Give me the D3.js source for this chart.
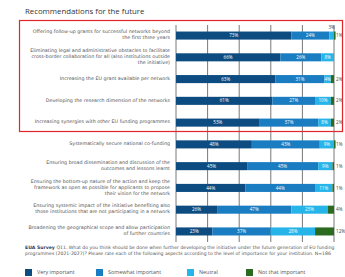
<!DOCTYPE html>
<html>
<head>
<meta charset="utf-8">
<script src="https://cdn.jsdelivr.net/npm/d3@7"></script>
<style>
  body { margin: 0; background: #fff; }
  svg { display: block; font-family: "Open Sans", sans-serif; }
</style>
</head>
<body>
<div id="chart"></div>
<script>
// Our data
const questions = [
  ['Offering follow-up grants for successful networks beyond', 'the first three years'],
  ['Eliminating legal and administrative obstacles to facilitate', 'cross-border collaboration for all (also institutions outside', 'the initiative)'],
  ['Increasing the EU grant available per network'],
  ['Developing the research dimension of the networks'],
  ['Increasing synergies with other EU funding programmes'],
  ['Systematically secure national co-funding'],
  ['Ensuring broad dissemination and discussion of the', 'outcomes and lessons learnt'],
  ['Ensuring the bottom-up nature of the action and keep the', 'framework as open as possible for applicants to propose', 'their vision for the network'],
  ['Ensuring systemic impact of the initiative benefiting also', 'those institutions that are not participating in a network'],
  ['Broadening the geographical scope and allow participation', 'of further countries']
]
const veryImportant = [73, 66, 63, 61, 53, 48, 45, 44, 26, 23]
const somewhatImportant = [24, 26, 31, 27, 37, 43, 45, 44, 47, 37]
const neutral = [3, 8, 4, 10, 8, 9, 9, 11, 23, 28]
const notImportant = [1, 0, 2, 2, 2, 1, 1, 1, 4, 12]
const seriesNames = ['Very important', 'Somewhat important', 'Neutral', 'Not that important']
const gridTicks = [0, 20, 40, 60, 80, 100]

const width = 345,
  height = 277
const colors = ['#0d4c80', '#1a7cc1', '#27b4e8', '#2b6b1f']
const smallFont = '"DejaVu Sans", sans-serif'

let svg = d3.select('#chart')
  .append('svg')
  .attr('width', width)
  .attr('height', height)

const x = d3.scaleLinear().domain([0, 100]).range([176, 334])
const y = d3.scaleBand().domain(d3.range(questions.length)).range([25, 242]).paddingInner(0.63).paddingOuter(0.3)

// title
svg.append('text')
  .attr('x', 25).attr('y', 14)
  .attr('font-size', 7.8).attr('fill', '#333')
  .text('Recommendations for the future')

// grid
svg.append('g').selectAll('line')
  .data(gridTicks)
  .enter().append('line')
  .attr('x1', d => x(d)).attr('x2', d => x(d))
  .attr('y1', 25).attr('y2', 242)
  .attr('stroke', '#555').attr('stroke-width', 0.8)

// stacked bars
const rows = questions.map((q, i) => [veryImportant[i], somewhatImportant[i], neutral[i], notImportant[i]])
const stacked = rows.map(r => {
  let acc = 0
  return r.map(v => { const s = acc; acc += v; return [s, acc, v] })
})

const rowG = svg.append('g').selectAll('g')
  .data(stacked)
  .enter().append('g')
  .attr('transform', (d, i) => `translate(0,${y(i)})`)

rowG.selectAll('rect')
  .data(d => d)
  .enter().append('rect')
  .attr('x', d => x(d[0]))
  .attr('width', d => x(d[1]) - x(d[0]))
  .attr('height', y.bandwidth())
  .attr('fill', (d, k) => colors[k])

// values inside
rowG.selectAll('text.val')
  .data(d => d.map((s, k) => ({ s, k })).filter(o => o.k < 3 && o.s[2] >= 4))
  .enter().append('text')
  .attr('class', 'val')
  .attr('x', o => x((o.s[0] + o.s[1]) / 2))
  .attr('y', y.bandwidth() / 2 + 1.6)
  .attr('text-anchor', 'middle')
  .attr('font-size', 4.6).attr('fill', '#fff')
  .text(o => o.s[2] + '%')

// small values outside
rowG.filter((d, i) => notImportant[i] > 0)
  .append('text')
  .attr('x', 336)
  .attr('y', y.bandwidth() / 2 + 1.6)
  .attr('font-size', 4.6).attr('fill', '#444')
  .text((d, i) => d[3][2] + '%')

rowG.filter(d => d[2][2] < 4)
  .append('text')
  .attr('x', d => x((d[2][0] + d[2][1]) / 2))
  .attr('y', -2.5)
  .attr('text-anchor', 'middle')
  .attr('font-size', 4.6).attr('fill', '#444')
  .text(d => d[2][2] + '%')

// question labels
rowG.append('text')
  .attr('text-anchor', 'end')
  .attr('font-family', smallFont)
  .attr('font-size', 4.8).attr('fill', '#555')
  .each(function (d, i) {
    const lines = questions[i]
    const lh = 6
    const top = y.bandwidth() / 2 + 1.8 - (lines.length - 1) * lh / 2 - 1
    d3.select(this).selectAll('tspan')
      .data(lines)
      .enter().append('tspan')
      .attr('x', 170)
      .attr('y', (l, j) => top + j * lh)
      .text(l => l)
  })

// highlight box
svg.append('rect')
  .attr('x', 19.5).attr('y', 20.5)
  .attr('width', 323).attr('height', 111)
  .attr('fill', 'none').attr('stroke', '#e3262b').attr('stroke-width', 1.2)

// footnote
const foot = svg.append('text')
  .attr('font-family', smallFont)
  .attr('font-size', 4.6).attr('fill', '#555')
foot.append('tspan').attr('x', 25).attr('y', 249)
  .attr('font-weight', 'bold').attr('fill', '#1d3f6e').text('EUA Survey ')
foot.append('tspan')
  .text('Q11. What do you think should be done when further developing the initiative under the future generation of EU funding')
foot.append('tspan').attr('x', 25).attr('y', 254.6)
  .text('programmes (2021-2027)? Please rate each of the following aspects according to the level of importance for your institution.    N=186')

// legend
const legendX = [25, 96, 187, 246]
const lg = svg.append('g').selectAll('g')
  .data(seriesNames)
  .enter().append('g')
  .attr('transform', (d, i) => `translate(${legendX[i]},269)`)
lg.append('rect').attr('width', 7).attr('height', 7).attr('fill', (d, i) => colors[i])
lg.append('text').attr('x', 12).attr('y', 5.4)
  .attr('font-size', 5.4).attr('fill', '#555')
  .text(d => d)
</script>
</body>
</html>
